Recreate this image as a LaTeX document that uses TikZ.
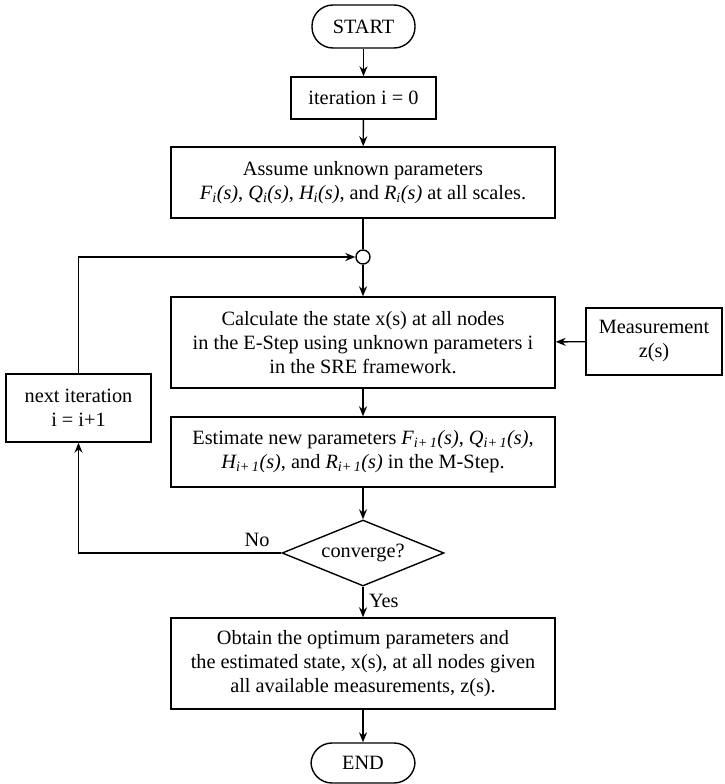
\documentclass[tikz,border=0pt]{standalone}
\usepackage{fontspec}
\setmainfont{Liberation Serif}
\usetikzlibrary{shapes.geometric,arrows.meta}
\begin{document}
\begin{tikzpicture}[x=1pt,y=-1pt,
  every node/.style={font=\fontsize{20.3}{24}\selectfont},
  boxn/.style={draw,line width=1.4pt,align=center,inner sep=0pt},
  term/.style={draw,line width=1.4pt,rounded corners=21pt,inner sep=0pt},
  arr/.style={line width=1.4pt,-{Stealth[length=10pt,width=8pt]}},
  ln/.style={line width=1.4pt}]
\useasboundingbox (0,0) rectangle (725,784);
\node[term,minimum width=103pt,minimum height=43pt] (start) at (363.5,26.5) {START};
\node[boxn,minimum width=145pt,minimum height=42pt] (iter) at (363.5,98) {iteration i = 0};
\node[boxn,minimum width=384pt,minimum height=71pt] (assume) at (363,182.5)
  {Assume unknown parameters\\ \textit{F\textsubscript{i}(s)}, \textit{Q\textsubscript{i}(s)}, \textit{H\textsubscript{i}(s)}, and \textit{R\textsubscript{i}(s)} at all scales.};
\node[draw,circle,line width=1.4pt,minimum size=14pt,inner sep=0pt] (circ) at (363,257) {};
\node[boxn,minimum width=384pt,minimum height=91pt] (calc) at (363,342.5)
  {Calculate the state x(s) at all nodes\\ in the E-Step using unknown parameters i\\ in the SRE framework.};
\node[boxn,minimum width=136pt,minimum height=67pt] (meas) at (654,341.5) {Measurement\\ z(s)};
\node[boxn,minimum width=145pt,minimum height=68pt] (next) at (78.5,408) {next iteration\\ i = i+1};
\node[boxn,minimum width=384pt,minimum height=70pt] (estim) at (363,452)
  {Estimate new parameters \textit{F\textsubscript{i+\,1}(s)}, \textit{Q\textsubscript{i+\,1}(s)},\\ \textit{H\textsubscript{i+\,1}(s)}, and \textit{R\textsubscript{i+\,1}(s)} in the M-Step.};
\node[draw,diamond,line width=1.4pt,aspect=2.45,minimum width=162pt,minimum height=66pt,inner sep=0pt] (conv) at (363,553) {converge?};
\node[boxn,minimum width=384pt,minimum height=91pt] (obtain) at (363,663.5)
  {Obtain the optimum parameters and\\ the estimated state, x(s), at all nodes given\\ all available measurements, z(s).};
\node[term,minimum width=104pt,minimum height=40pt] (endn) at (363,763) {END};
\coordinate (turn) at (78.5,257);
\coordinate (nocorner) at (78.5,553);
\draw[arr] (start) -- (iter);
\draw[arr] (iter) -- (assume);
\draw[ln] (assume) -- (circ);
\draw[arr] (circ) -- (calc);
\draw[arr] (calc) -- (estim);
\draw[arr] (estim) -- (conv);
\draw[arr] (conv) -- node[right,pos=0.45,xshift=2pt] (yes) {Yes} (obtain);
\draw[arr] (obtain) -- (endn);
\draw[arr] (meas) -- (calc);
\draw[arr] (conv.west) -- (nocorner) -- (next);
\node (no) at (257,540) {No};
\draw[arr] (next) -- (turn) -- (circ);
\end{tikzpicture}
\end{document}
